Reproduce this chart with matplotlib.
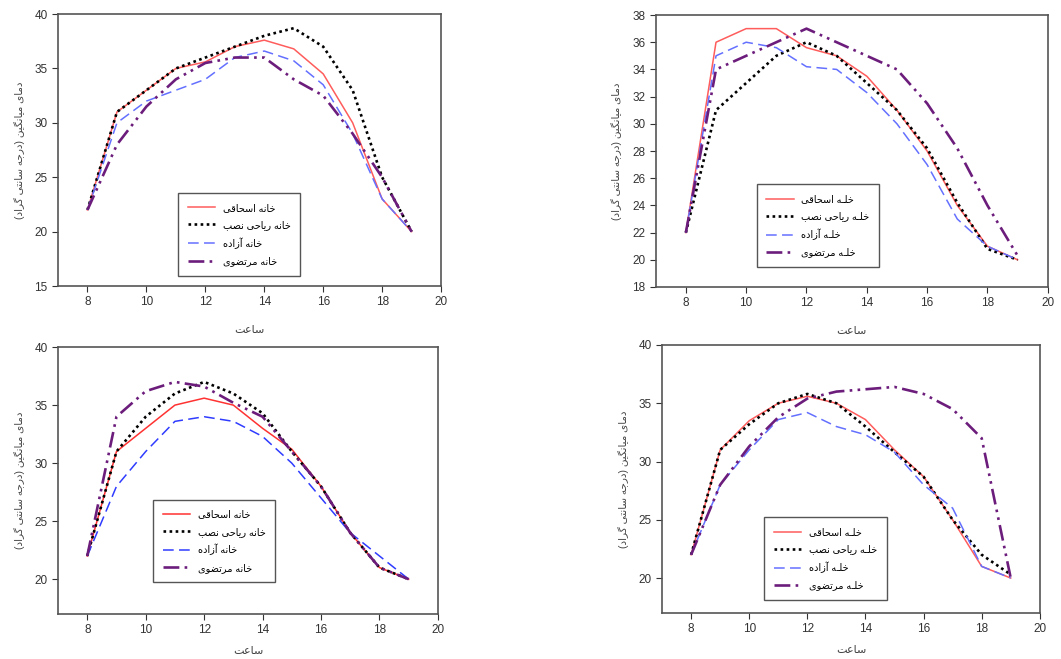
import numpy as np
import matplotlib
matplotlib.use('Agg')
import matplotlib.pyplot as plt

plt.rcParams['font.family'] = ['Liberation Sans', 'DejaVu Sans']

# --- data -------------------------------------------------------------
hours = [8, 9, 10, 11, 12, 13, 14, 15, 16, 17, 18, 19]

tl_eshaghi = [22, 31, 33, 35, 35.6, 37, 37.6, 36.8, 34.5, 30, 23, 20]
tl_riahi = [22, 31, 33, 35, 36, 37, 38, 38.7, 37, 33, 25, 20]
tl_azadeh = [22, 30, 32, 33, 34, 36, 36.6, 35.7, 33.5, 29, 23, 20]
tl_mortazavi = [22, 28, 31.5, 34, 35.5, 36, 36, 34, 32.5, 29, 25, 20]

tr_eshaghi = [22, 36, 37, 37, 35.6, 35, 33.5, 31, 28, 24, 21, 20]
tr_riahi = [22, 31, 33, 35, 36, 35, 33, 31, 28.2, 24.2, 20.8, 20]
tr_azadeh = [22, 35, 36, 35.6, 34.2, 34, 32.3, 30, 27, 23, 21, 20]
tr_mortazavi = [22, 34, 35, 36, 37, 36, 35, 34, 31.5, 28.2, 24, 20.3]

bl_eshaghi = [22, 31, 33, 35, 35.6, 35, 33, 31.2, 28, 24, 21, 20]
bl_riahi = [22, 31, 34, 36, 37, 36, 34.3, 31, 28, 24, 21, 20]
bl_azadeh = [22, 28, 31, 33.6, 34, 33.6, 32.3, 30, 27, 24, 22, 20]
bl_mortazavi = [22, 34, 36.2, 37, 36.6, 35.2, 34, 31, 28, 24, 21, 20]

br_eshaghi = [22, 31, 33.5, 35, 35.6, 35, 33.6, 31, 28.7, 25, 21, 20]
br_riahi = [22, 31, 33.2, 35, 35.8, 35, 33, 30.8, 28.7, 25, 22, 20.3]
br_azadeh = [22, 28, 31, 33.6, 34.2, 33, 32.3, 30.8, 28, 26, 21, 20]
br_mortazavi = [22, 28, 31.3, 33.8, 35.4, 36, 36.2, 36.4, 35.8, 34.5, 32, 20]

labels_khaneh = ['خانه اسحاقی', 'خانه ریاحی نصب', 'خانه آزاده', 'خانه مرتضوی']
labels_khaleh = ['خلـه اسحاقی', 'خلـه ریاحی نصب', 'خلـه آزاده', 'خلـه مرتضوی']
ylabel_txt = 'دمای میانگین (درجه سانتی گراد)'
xlabel_txt = 'ساعت'

# --- minimal arabic/persian shaping (matplotlib has no shaper) ---------
forms = {
    'ا': ('\uFE8D', '\uFE8E', None, None),
    'آ': ('\uFE81', '\uFE82', None, None),
    'ب': ('\uFE8F', '\uFE90', '\uFE91', '\uFE92'),
    'ت': ('\uFE95', '\uFE96', '\uFE97', '\uFE98'),
    'ج': ('\uFE9D', '\uFE9E', '\uFE9F', '\uFEA0'),
    'ح': ('\uFEA1', '\uFEA2', '\uFEA3', '\uFEA4'),
    'خ': ('\uFEA5', '\uFEA6', '\uFEA7', '\uFEA8'),
    'د': ('\uFEA9', '\uFEAA', None, None),
    'ر': ('\uFEAD', '\uFEAE', None, None),
    'ز': ('\uFEAF', '\uFEB0', None, None),
    'س': ('\uFEB1', '\uFEB2', '\uFEB3', '\uFEB4'),
    'ص': ('\uFEB9', '\uFEBA', '\uFEBB', '\uFEBC'),
    'ض': ('\uFEBD', '\uFEBE', '\uFEBF', '\uFEC0'),
    'ع': ('\uFEC9', '\uFECA', '\uFECB', '\uFECC'),
    'ق': ('\uFED5', '\uFED6', '\uFED7', '\uFED8'),
    'ل': ('\uFEDD', '\uFEDE', '\uFEDF', '\uFEE0'),
    'م': ('\uFEE1', '\uFEE2', '\uFEE3', '\uFEE4'),
    'ن': ('\uFEE5', '\uFEE6', '\uFEE7', '\uFEE8'),
    'ه': ('\uFEE9', '\uFEEA', '\uFEEB', '\uFEEC'),
    'و': ('\uFEED', '\uFEEE', None, None),
    'ی': ('\uFBFC', '\uFBFD', '\uFBFE', '\uFBFF'),
    'گ': ('\uFB92', '\uFB93', '\uFB94', '\uFB95'),
}
mirror = {'(': ')', ')': '('}


def joins_next(c):
    if c == '\u0640':
        return True
    return c in forms and forms[c][2] is not None


def is_letter(c):
    return c in forms or c == '\u0640'


def fa(s):
    out = []
    for i, c in enumerate(s):
        if c not in forms:
            out.append(mirror.get(c, c))
            continue
        prev = s[i - 1] if i > 0 else ''
        nxt = s[i + 1] if i < len(s) - 1 else ''
        cp = joins_next(prev)
        cn = joins_next(c) and is_letter(nxt)
        iso, fin, ini, med = forms[c]
        if cp and cn:
            out.append(med)
        elif cp:
            out.append(fin)
        elif cn:
            out.append(ini)
        else:
            out.append(iso)
    return ''.join(out[::-1])


# --- plotting --------------------------------------------------------
red = '#ff5c5c'
blue = '#6470ff'
purple = '#6c1d7c'

styles = [
    dict(color=red, lw=1.1, ls='-'),
    dict(color='black', lw=1.9, ls=(0, (1, 1.3))),
    dict(color=blue, lw=1.1, ls=(0, (7, 3.5))),
    dict(color=purple, lw=1.9, ls=(0, (6, 2, 1, 2, 1, 2))),
]

fig = plt.figure(figsize=(10.61, 6.59), dpi=100)

panels = [
    ([0.0547, 0.566, 0.361, 0.4127], (15, 40), np.arange(15, 41, 5),
     [tl_eshaghi, tl_riahi, tl_azadeh, tl_mortazavi], labels_khaneh, (0.30, 0.02), None, 12),
    ([0.618, 0.5645, 0.3695, 0.4127], (18, 38), np.arange(18, 39, 2),
     [tr_eshaghi, tr_riahi, tr_azadeh, tr_mortazavi], labels_khaleh, (0.245, 0.055), None, 12),
    ([0.0547, 0.0683, 0.358, 0.405], (17, 40), np.arange(20, 41, 5),
     [bl_eshaghi, bl_riahi, bl_azadeh, bl_mortazavi], labels_khaneh, (0.237, 0.10),
     ['#ff3232', '#2f3cff'], 7),
    ([0.624, 0.0698, 0.356, 0.4067], (17, 40), np.arange(20, 41, 5),
     [br_eshaghi, br_riahi, br_azadeh, br_mortazavi], labels_khaleh, (0.257, 0.03), None, 7),
]

for rect, ylim, yticks, series, labels, anchor, alt, xpad in panels:
    ax = fig.add_axes(rect)
    for k, (vals, lab) in enumerate(zip(series, labels)):
        st = dict(styles[k])
        if alt is not None and k == 0:
            st['color'] = alt[0]
        if alt is not None and k == 2:
            st['color'] = alt[1]
        ax.plot(hours, vals, label=fa(lab), **st)
    ax.set_xlim(7, 20)
    ax.set_ylim(*ylim)
    ax.set_xticks([8, 10, 12, 14, 16, 18, 20])
    ax.set_yticks(yticks)
    ax.tick_params(labelsize=8.5, length=4, width=0.8, colors='#333333')
    for sp in ax.spines.values():
        sp.set_color('#555555')
        sp.set_linewidth(1.2)
    ax.set_xlabel(fa(xlabel_txt), fontsize=8, color='#444444', labelpad=xpad)
    ax.set_ylabel(fa(ylabel_txt), fontsize=7.5, color='#444444', labelpad=7)
    leg = ax.legend(loc='lower left', bbox_to_anchor=anchor, fontsize=7,
                    handlelength=2.8, handletextpad=0.8, labelspacing=0.75,
                    borderpad=1.0, fancybox=False, framealpha=1,
                    edgecolor='#555555')
    leg.get_frame().set_linewidth(1.0)

fig.savefig('out.png', dpi=100)
